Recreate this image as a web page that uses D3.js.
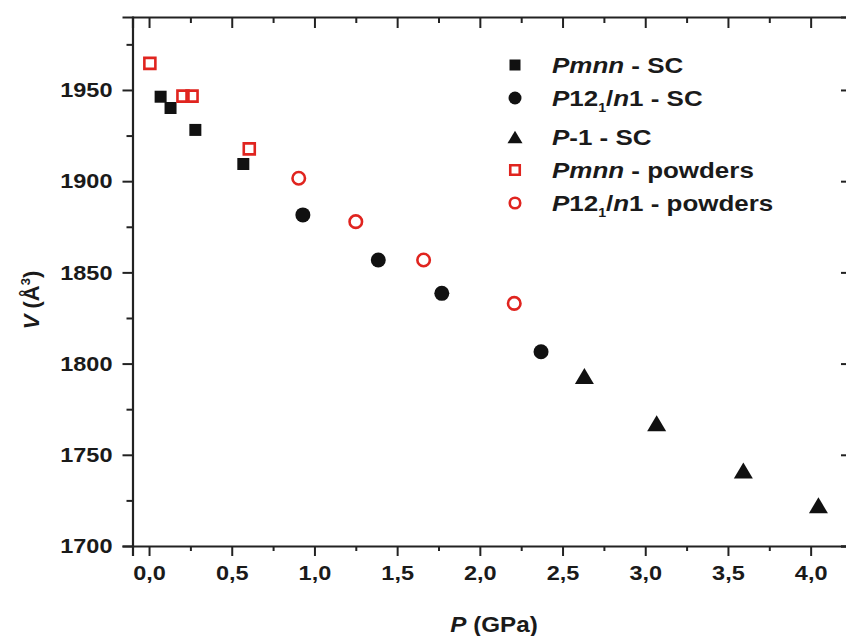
<!DOCTYPE html>
<html><head><meta charset="utf-8">
<script src="https://cdn.jsdelivr.net/npm/d3@7"></script>
<style>
html,body{margin:0;padding:0;background:#fff;}
svg text{font-family:"Liberation Sans",Arial,sans-serif;font-weight:bold;fill:#1a1a1a;}
</style></head>
<body><svg id="chart" width="846" height="636"></svg>
<script>
// ---- data ----
const pmnnSC_P = [0.07, 0.13, 0.28, 0.57];
const pmnnSC_V = [1946.3, 1940.1, 1928.1, 1909.4];
const p121SC_P = [0.93, 1.386, 1.77, 2.37];
const p121SC_V = [1881.5, 1856.8, 1838.5, 1806.5];
const pm1SC_P = [2.632, 3.069, 3.593, 4.047];
const pm1SC_V = [1793.2, 1767.3, 1741.4, 1722.3];
const pmnnPow_P = [0.005, 0.205, 0.26, 0.606];
const pmnnPow_V = [1964.6, 1946.6, 1946.6, 1917.7];
const p121Pow_P = [0.905, 1.25, 1.66, 2.208];
const p121Pow_V = [1901.6, 1877.8, 1856.8, 1833.0];
const xMajor = [0, 0.5, 1.0, 1.5, 2.0, 2.5, 3.0, 3.5, 4.0];
const xMinor = [0.25, 0.75, 1.25, 1.75, 2.25, 2.75, 3.25, 3.75, 4.25];
const yMajor = [1700, 1750, 1800, 1850, 1900, 1950];
const yMinor = [1725, 1775, 1825, 1875, 1925, 1975];
const legendLabels = [
  [["P","i"],["mnn","i"],[" - SC",""]],
  [["P","i"],["12",""],["1","sub"],["/",""],["n","i"],["1 - SC",""]],
  [["P","i"],["-1 - SC",""]],
  [["P","i"],["mnn","i"],[" - powders",""]],
  [["P","i"],["12",""],["1","sub"],["/",""],["n","i"],["1 - powders",""]]
];

const RED = "#e0241f", BLK = "#111";
const svg = d3.select("#chart");
const W = 846, H = 636;
const x = d3.scaleLinear().domain([-0.1, 4.25]).range([132.5, 852]);
const y = d3.scaleLinear().domain([1700, 1990]).range([546, 17]);
const TS = 1.12; // horizontal text stretch

const fmt = d => d3.format(".1f")(d).replace(".", ",");

function styleAxis(g){
  g.select(".domain").attr("stroke", "#222").attr("stroke-width", 2.2);
  g.selectAll(".tick line").attr("stroke", "#222").attr("stroke-width", 2);
}
// bottom
const gB = svg.append("g").attr("transform", `translate(0,${y(1700)})`)
  .call(d3.axisBottom(x).tickValues(xMajor).tickSize(10).tickPadding(9).tickFormat(fmt));
styleAxis(gB);
gB.selectAll(".tick text").attr("font-size", 21).attr("fill", "#1a1a1a")
  .attr("font-family", "Liberation Sans, Arial, sans-serif").attr("font-weight", "bold")
  .attr("transform", `scale(${TS},1)`);
svg.append("g").attr("transform", `translate(0,${y(1700)})`)
  .call(d3.axisBottom(x).tickValues(xMinor).tickSize(5).tickFormat(""))
  .call(g => { g.select(".domain").remove(); g.selectAll("line").attr("stroke", "#222").attr("stroke-width", 2); });
// top
const gT = svg.append("g").attr("transform", `translate(0,${y(1990)})`)
  .call(d3.axisBottom(x).tickValues(xMajor).tickSize(11).tickFormat(""));
styleAxis(gT);
svg.append("g").attr("transform", `translate(0,${y(1990)})`)
  .call(d3.axisBottom(x).tickValues(xMinor).tickSize(6).tickFormat(""))
  .call(g => { g.select(".domain").remove(); g.selectAll("line").attr("stroke", "#222").attr("stroke-width", 2); });
// left
const gL = svg.append("g").attr("transform", `translate(${x(-0.1)},0)`)
  .call(d3.axisLeft(y).tickValues(yMajor).tickSize(10).tickPadding(10).tickFormat(d3.format("d")));
styleAxis(gL);
gL.selectAll(".tick text").attr("font-size", 21).attr("fill", "#1a1a1a")
  .attr("font-family", "Liberation Sans, Arial, sans-serif").attr("font-weight", "bold")
  .attr("x", -20 / TS).attr("transform", `scale(${TS},1)`);
svg.append("g").attr("transform", `translate(${x(-0.1)},0)`)
  .call(d3.axisLeft(y).tickValues(yMinor).tickSize(6).tickFormat(""))
  .call(g => { g.select(".domain").remove(); g.selectAll("line").attr("stroke", "#222").attr("stroke-width", 2); });
// right
const gR = svg.append("g").attr("transform", `translate(${x(4.25)},0)`)
  .call(d3.axisLeft(y).tickValues(yMajor).tickSize(11).tickFormat(""));
styleAxis(gR);
svg.append("g").attr("transform", `translate(${x(4.25)},0)`)
  .call(d3.axisLeft(y).tickValues(yMinor).tickSize(6).tickFormat(""))
  .call(g => { g.select(".domain").remove(); g.selectAll("line").attr("stroke", "#222").attr("stroke-width", 2); });

// axis titles
const xt = svg.append("text").attr("transform", `translate(494,632) scale(1.1,1)`)
  .attr("text-anchor", "middle").attr("font-size", 22);
xt.append("tspan").attr("font-style", "italic").text("P");
xt.append("tspan").text(" (GPa)");
const yt = svg.append("text").attr("transform", `translate(39,300) rotate(-90)`)
  .attr("text-anchor", "middle").attr("font-size", 22);
yt.append("tspan").attr("font-style", "italic").text("V");
yt.append("tspan").text(" (Å");
yt.append("tspan").attr("font-size", 13).attr("dy", -9).text("3");
yt.append("tspan").attr("dy", 9).text(")");

// markers
function tri(w, h){ return `M0,${-h/2}L${w/2},${h/2}L${-w/2},${h/2}Z`; }
function drawSeries(P, V, kind, size){
  const data = P.map((p, i) => ({p, v: V[i]}));
  const g = svg.append("g");
  const sel = g.selectAll("path").data(data).join("path")
    .attr("transform", d => `translate(${x(d.p)},${y(d.v)})`);
  styleMarker(sel, kind, size);
}
function styleMarker(sel, kind, s){
  if (kind === "sq") sel.attr("d", d3.symbol(d3.symbolSquare, s*s)).attr("fill", BLK);
  if (kind === "ci") sel.attr("d", d3.symbol(d3.symbolCircle, Math.PI*s*s/4)).attr("fill", BLK);
  if (kind === "tr") sel.attr("d", tri(s, s*0.84)).attr("fill", BLK);
  if (kind === "osq") sel.attr("d", d3.symbol(d3.symbolSquare, s*s)).attr("fill", "none").attr("stroke", RED).attr("stroke-width", 2.6);
  if (kind === "oci") sel.attr("d", d3.symbol(d3.symbolCircle, Math.PI*s*s/4)).attr("fill", "none").attr("stroke", RED).attr("stroke-width", 2.6);
}
drawSeries(pmnnSC_P, pmnnSC_V, "sq", 12);
drawSeries(p121SC_P, p121SC_V, "ci", 15);
drawSeries(pm1SC_P, pm1SC_V, "tr", 19);
drawSeries(pmnnPow_P, pmnnPow_V, "osq", 11);
drawSeries(p121Pow_P, p121Pow_V, "oci", 12.5);

// legend
const legKinds = [["sq", 11], ["ci", 13], ["tr", 15], ["osq", 9.5], ["oci", 10.5]];
let ly = 65;
legendLabels.forEach((parts, i) => {
  const g = svg.append("g").attr("transform", `translate(0,${ly})`);
  styleMarker(g.append("path").attr("transform", "translate(515,0)"), legKinds[i][0], legKinds[i][1]);
  const t = g.append("text").attr("transform", `translate(552,8) scale(1.18,1)`).attr("font-size", 22);
  parts.forEach(([s, k]) => {
    const ts = t.append("tspan").text(s);
    if (k === "i") ts.attr("font-style", "italic");
    if (k === "sub") ts.attr("font-size", 12).attr("dy", 6);
    if (k !== "sub" && parts.some(q => q[1] === "sub") && ts.node().previousSibling && ts.node().previousSibling.getAttribute("dy") === "6") ts.attr("dy", -6);
  });
  const hasSub = parts.some(q => q[1] === "sub");
  ly += hasSub ? 39 : 33;
});
</script></body></html>
